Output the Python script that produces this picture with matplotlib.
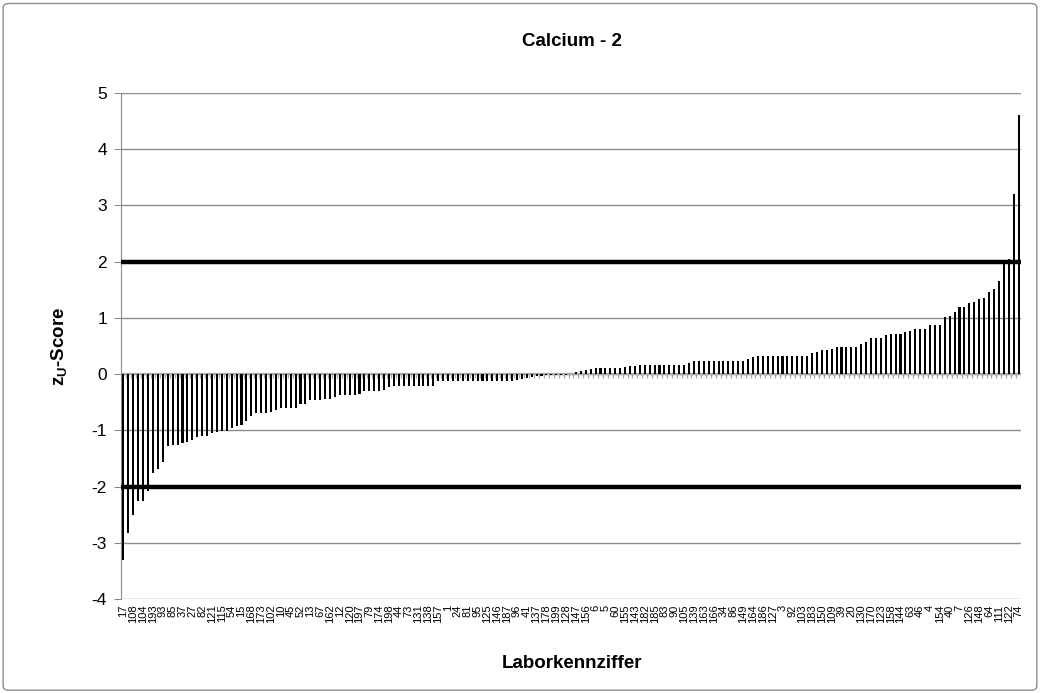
import matplotlib
matplotlib.use("Agg")
import matplotlib.pyplot as plt
from matplotlib.patches import FancyBboxPatch
import numpy as np

plt.rcParams['font.family'] = ['Liberation Sans', 'DejaVu Sans']
plt.rcParams['mathtext.fontset'] = 'custom'
plt.rcParams['mathtext.rm'] = 'Liberation Sans'
plt.rcParams['mathtext.bf'] = 'Liberation Sans:bold'
plt.rcParams['axes.unicode_minus'] = False

# z_U-scores, sorted ascending (one per lab)
z_scores = [
    -3.31, -2.83, -2.51, -2.25, -2.25, -2.08, -1.76, -1.68, -1.56, -1.27,
    -1.26, -1.26, -1.23, -1.20, -1.17, -1.11, -1.10, -1.10, -1.05, -1.03,
    -1.02, -1.01, -0.96, -0.93, -0.90, -0.83, -0.74, -0.69, -0.69, -0.69,
    -0.67, -0.64, -0.61, -0.61, -0.61, -0.61, -0.54, -0.53, -0.46, -0.46,
    -0.46, -0.45, -0.44, -0.41, -0.37, -0.37, -0.37, -0.37, -0.36, -0.30,
    -0.30, -0.30, -0.30, -0.29, -0.23, -0.22, -0.22, -0.22, -0.22, -0.22,
    -0.22, -0.22, -0.22, -0.22, -0.12, -0.12, -0.12, -0.12, -0.12, -0.12,
    -0.12, -0.12, -0.12, -0.12, -0.12, -0.12, -0.12, -0.12, -0.12, -0.12,
    -0.10, -0.09, -0.07, -0.05, -0.04, -0.03, -0.02, -0.02, -0.01, -0.01,
    -0.01, 0.01, 0.03, 0.06, 0.08, 0.09, 0.10, 0.10, 0.10, 0.10,
    0.10, 0.10, 0.13, 0.14, 0.15, 0.17, 0.17, 0.17, 0.17, 0.17,
    0.17, 0.17, 0.17, 0.17, 0.17, 0.19, 0.24, 0.24, 0.24, 0.24,
    0.24, 0.24, 0.24, 0.24, 0.24, 0.24, 0.24, 0.26, 0.30, 0.32,
    0.32, 0.32, 0.32, 0.32, 0.32, 0.32, 0.32, 0.32, 0.33, 0.33,
    0.38, 0.40, 0.42, 0.42, 0.45, 0.49, 0.49, 0.49, 0.49, 0.49,
    0.53, 0.57, 0.65, 0.65, 0.65, 0.69, 0.71, 0.72, 0.72, 0.75,
    0.76, 0.80, 0.81, 0.81, 0.88, 0.88, 0.88, 1.01, 1.04, 1.11,
    1.19, 1.19, 1.26, 1.29, 1.33, 1.36, 1.46, 1.51, 1.66, 1.97,
    2.05, 3.20, 4.60,
]

# lab codes shown on the axis (every second lab is labelled)
shown_labels = [
    "17", "108", "104", "193", "93", "85", "37", "27", "82", "121",
    "115", "54", "15", "168", "173", "102", "10", "45", "52", "13",
    "67", "162", "12", "120", "197", "79", "174", "198", "44", "73",
    "131", "138", "157", "1", "24", "81", "95", "125", "146", "187",
    "96", "41", "137", "178", "199", "128", "147", "156", "6", "5",
    "60", "155", "143", "182", "185", "83", "90", "105", "139", "163",
    "166", "34", "86", "149", "164", "186", "127", "3", "92", "103",
    "183", "150", "109", "39", "20", "130", "170", "123", "158", "144",
    "63", "46", "4", "154", "40", "7", "126", "148", "64", "111",
    "122", "74",
]

limits = [-2, 2]

grey = '#8c8c8c'
n = len(z_scores)
x = np.arange(n)

fig = plt.figure(figsize=(10.41, 6.93), dpi=100)
ax = fig.add_axes([121 / 1041, 1 - 599 / 693, 900 / 1041, 506 / 693])

# chart border
fig.patches.append(FancyBboxPatch((0.003, 0.004), 0.993, 0.991,
                                  boxstyle="round,pad=0,rounding_size=0.006",
                                  transform=fig.transFigure, fill=False,
                                  edgecolor=grey, linewidth=1.0))

ax.set_xlim(-0.5, n - 0.5)
ax.set_ylim(-4, 5)
ax.set_yticks(range(-4, 6))
ax.yaxis.grid(True, color=grey, linewidth=1.0)
ax.set_axisbelow(True)

ax.bar(x, z_scores, width=0.42, color='black', zorder=3)

# category axis at zero with small tick marks between categories
ax.axhline(0, color='#a6a6a6', linewidth=1.6, zorder=2)
ax.vlines(np.arange(n + 1) - 0.5, -0.07, 0, color='#a6a6a6', linewidth=0.9, zorder=2)

for lim in limits:
    ax.axhline(lim, color='black', linewidth=3.2, zorder=4)

ax.set_xticks(x[::2])
ax.set_xticklabels(shown_labels, rotation=90, fontsize=8)
ax.tick_params(axis='x', length=0, pad=4)
ax.tick_params(axis='y', length=5, color=grey, labelsize=12.5, pad=5)

for side in ['top', 'right', 'bottom']:
    ax.spines[side].set_visible(False)
ax.spines['left'].set_color(grey)

fig.text(572 / 1041, 1 - 41 / 693, 'Calcium - 2', ha='center', va='center',
         fontsize=13.5, fontweight='bold')
fig.text(60 / 1041, 1 - 346 / 693, r'z$_{\mathbf{U}}$-Score', ha='center', va='center',
         rotation=90, fontsize=13.5, fontweight='bold')
fig.text(572 / 1041, 1 - 663 / 693, 'Laborkennziffer', ha='center', va='center',
         fontsize=13.5, fontweight='bold')

fig.savefig('out.png', dpi=100)
